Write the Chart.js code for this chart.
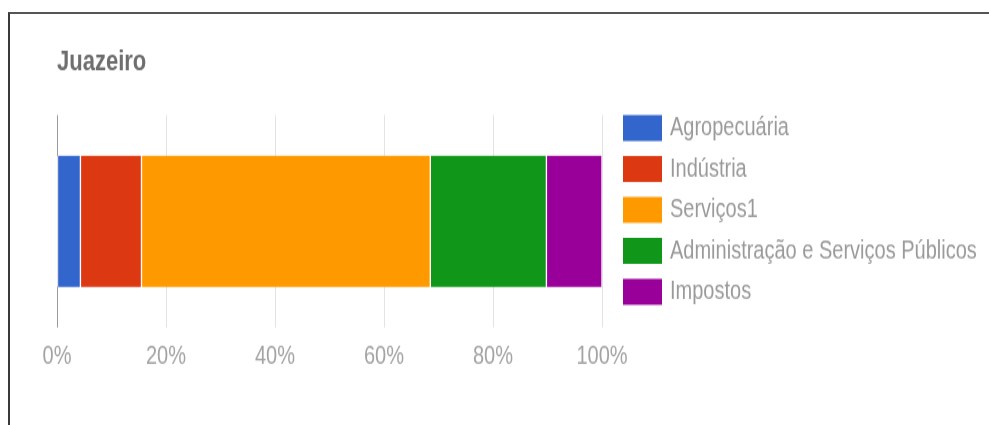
<!DOCTYPE html>
<html>
<head>
<meta charset="utf-8">
<script src="https://cdn.jsdelivr.net/npm/chart.js@4.4.1/dist/chart.umd.min.js"></script>
<style>
  html, body { margin: 0; padding: 0; background: #fff; overflow: hidden; }
  #frame { position: absolute; left: 8px; top: 12px; width: 1200px; height: 600px;
           border-top: 2px solid #555; border-left: 2px solid #3a3a3a; }
  /* canvas bitmap is 989x327, shown taller */
  #chart { position: absolute; left: 0; top: 0; width: 989px !important; height: 425px !important; }
</style>
</head>
<body>
<div id="frame"></div>
<canvas id="chart" width="989" height="327" style="width:989px;height:425px"></canvas>
<script>
"use strict";
var city = "Juazeiro";
var sectors = ["Agropecuária", "Indústria", "Serviços1", "Administração e Serviços Públicos", "Impostos"];
var shares = [4.3, 11.2, 53.0, 21.3, 10.2];
var colors = ["#3366cc", "#dc3912", "#ff9900", "#109618", "#990099"];
var tickValues = [0, 20, 40, 60, 80, 100];
var tickLabels = ["0%", "20%", "40%", "60%", "80%", "100%"];

var FONT = "'Liberation Sans', Arial, sans-serif";

// legend box list to the right of the plot
var sideLegend = {
    id: "sideLegend",
    afterDraw: function(chart){
        var ctx = chart.ctx;
        var area = chart.chartArea;
        ctx.save();
        ctx.font = "20px " + FONT;
        ctx.textBaseline = "middle";
        chart.data.datasets.forEach(function(ds, i){
            var y = area.top + 10 + i * 31.5;
            ctx.fillStyle = ds.backgroundColor;
            ctx.fillRect(area.right + 21, y - 10, 39, 20);
            ctx.fillStyle = "#9a9a9a";
            ctx.fillText(ds.label, area.right + 68, y);
        });
        ctx.restore();
    }
};

var datasets = sectors.map(function(name, i){
    return {
        label: name,
        data: [shares[i]],
        backgroundColor: colors[i],
        borderColor: "#ffffff",
        borderWidth: {left: 1, right: 1, top: 0, bottom: 0},
        borderSkipped: false,
        barThickness: 101
    };
});

var ctx = document.getElementById("chart").getContext("2d");
var chart = new Chart(ctx, {
    type: "bar",
    data: {
        labels: [city],
        datasets: datasets
    },
    options: {
        indexAxis: "y",
        responsive: false,
        animation: false,
        layout: {
            padding: {left: 57, right: 387, top: 0, bottom: 30.8}
        },
        plugins: {
            legend: {display: false},
            tooltip: {enabled: false},
            title: {
                display: true,
                text: city,
                align: "start",
                color: "#6e6e6e",
                font: {family: FONT, size: 22, weight: "bold"},
                padding: {top: 35, bottom: 27.1}
            }
        },
        scales: {
            x: {
                stacked: true,
                min: 0,
                max: 100,
                afterBuildTicks: function(axis){
                    axis.ticks = tickValues.map(function(v){ return {value: v}; });
                },
                border: {display: false},
                grid: {
                    drawTicks: false,
                    color: function(c){ return c.tick && c.tick.value === 0 ? "#9a9a9a" : "#e3e3e3"; }
                },
                ticks: {
                    padding: 10,
                    color: "#a3a3a3",
                    font: {family: FONT, size: 20},
                    callback: function(value){ return tickLabels[tickValues.indexOf(value)]; }
                }
            },
            y: {
                stacked: true,
                display: false
            }
        }
    },
    plugins: [sideLegend]
});
</script>
</body>
</html>
